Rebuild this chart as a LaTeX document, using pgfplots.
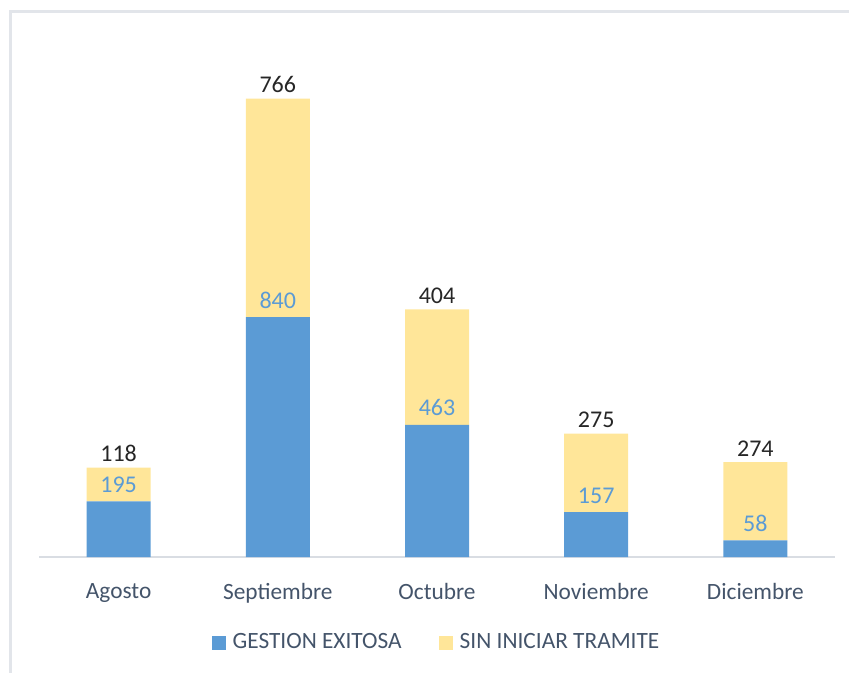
\documentclass[border=0pt]{standalone}
\usepackage{fontspec}
\setmainfont{Carlito}
\usepackage{pgfplots}
\usepackage{pgfplotstable}
\pgfplotsset{compat=1.18}
\definecolor{cblue}{HTML}{5B9BD5}
\definecolor{cyellow}{HTML}{FFE699}
\definecolor{ctext}{HTML}{44546A}
\definecolor{cframe}{HTML}{E2E5EA}
\definecolor{caxis}{HTML}{D9DDE3}
\pgfplotstableread{
x b y t
0 195 118 313
1 840 766 1606
2 463 404 867
3 157 275 432
4 58 274 332
}\datatab
\pgfplotsset{common/.style={at={(29.25pt,86.25pt)}, anchor=south west, scale only axis,
  width=597pt, height=364pt, xmin=-0.5, xmax=4.5, ymin=0, ymax=1700, clip=false}}
\begin{document}
\begin{tikzpicture}
\path[use as bounding box] (0pt,0pt) rectangle (636.75pt,504pt);
\draw[cframe, line width=2.25pt] (7.5pt,-40pt) -- (7.5pt,495pt) -- (700pt,495pt);
\begin{axis}[common,
  ybar stacked, bar width=48pt,
  axis x line*=bottom, axis y line=none,
  x axis line style={draw=caxis, line width=1.2pt},
  xtick=data, xticklabels={Agosto,Septiembre,Octubre,Noviembre,Diciembre},
  major tick length=0pt, ytick=\empty,
  xticklabel style={font=\fontsize{17.5}{20}\selectfont, text=ctext, yshift=-16pt},
  legend style={at={(0.5,-0.176)}, anchor=center, draw=none, fill=none,
    legend columns=2, font=\fontsize{17.5}{20}\selectfont, text=ctext,
    /tikz/every odd column/.append style={column sep=3pt},
    /tikz/every even column/.append style={column sep=26pt}},
  legend image code/.code={\fill[#1,draw=none] (0pt,-5.5pt) rectangle (10.5pt,5pt);},
]
\addplot[fill=cblue, draw=none] table[x=x, y=b] {\datatab};
\addplot[fill=cyellow, draw=none] table[x=x, y=y] {\datatab};
\legend{GESTION EXITOSA, SIN INICIAR TRAMITE}
\end{axis}
\begin{axis}[common, axis lines=none, ticks=none, point meta=explicit,
  /pgf/number format/assume math mode=true]
\addplot[draw=none, mark=none, nodes near coords,
  every node near coord/.append style={text=cblue, font=\fontsize{18}{20}\selectfont, anchor=south, yshift=3pt}]
  table[x=x, y=b, meta=b] {\datatab};
\addplot[draw=none, mark=none, nodes near coords,
  every node near coord/.append style={text=black!85, font=\fontsize{18}{20}\selectfont, anchor=south, yshift=1pt}]
  table[x=x, y=t, meta=y] {\datatab};
\end{axis}
\end{tikzpicture}
\end{document}
